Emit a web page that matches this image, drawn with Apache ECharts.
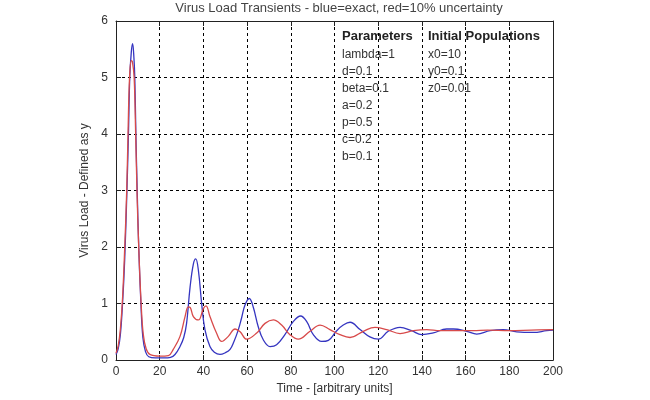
<!DOCTYPE html>
<html><head><meta charset="utf-8">
<script src="https://cdn.jsdelivr.net/npm/echarts@6/dist/echarts.min.js"></script>
<style>html,body{margin:0;padding:0;background:#fff}#c{width:650px;height:400px}</style>
</head><body><div id="c"></div>
<script>
var titleText = 'Virus Load Transients - blue=exact, red=10% uncertainty';
var xTicks = [0,20,40,60,80,100,120,140,160,180,200];
var yTicks = [0,1,2,3,4,5,6];
var blueExact = [[0,0.1],[1,0.2],[2,0.45],[3,1.0],[4,1.8],[5,3.0],[5.7,4.0],[6.3,5.0],[7,5.45],[7.6,5.6],[8.2,5.35],[8.6,5.0],[9.1,4.0],[9.7,3.0],[10.4,2.0],[11.4,1.0],[12.3,0.4],[13.5,0.15],[15,0.06],[18,0.04],[22,0.04],[25,0.05],[27,0.1],[29.3,0.24],[31,0.4],[32.3,0.65],[33.9,1.29],[35.4,1.7],[36.5,1.79],[37.7,1.59],[39.2,1.0],[40.7,0.54],[43,0.24],[45,0.14],[47.6,0.1],[50,0.13],[52.2,0.19],[54,0.33],[56,0.54],[57.5,0.75],[59,0.97],[61,1.09],[62.8,0.94],[65.1,0.59],[67.4,0.36],[70.5,0.24],[73.5,0.27],[77.3,0.45],[81.1,0.68],[84.5,0.78],[87.3,0.68],[90.3,0.45],[94.1,0.33],[97.2,0.35],[101,0.52],[104,0.62],[107.1,0.67],[111.7,0.54],[116.2,0.41],[120.1,0.37],[124.6,0.51],[130,0.58],[135.3,0.52],[139.9,0.45],[145.2,0.48],[151.3,0.55],[154.4,0.55],[160.5,0.51],[165.1,0.46],[171.2,0.52],[177.2,0.54],[183.4,0.5],[191,0.49],[197.1,0.52],[200,0.53]];
var redUncertain = [[0,0.12],[1,0.25],[2,0.55],[3,1.1],[4,2.0],[4.9,3.0],[5.5,4.0],[6.2,5.0],[7,5.3],[7.5,5.28],[8.3,5.0],[9.0,4.0],[9.6,3.0],[10.4,2.0],[11.5,1.0],[12.5,0.45],[13.8,0.2],[15.5,0.1],[20,0.07],[24,0.08],[26.2,0.19],[29.3,0.42],[31.6,0.77],[33.1,0.94],[34,0.93],[35.4,0.77],[37.7,0.71],[40,0.91],[41.2,0.96],[43,0.77],[46,0.48],[48.4,0.33],[51.4,0.42],[54.5,0.55],[56.8,0.5],[59.8,0.37],[64.4,0.48],[68.2,0.65],[72,0.71],[75.8,0.62],[79.6,0.45],[83.4,0.37],[88.8,0.51],[93.4,0.62],[97.9,0.54],[102.5,0.45],[107.1,0.40],[113.2,0.51],[118.5,0.58],[123.9,0.54],[130,0.47],[136.1,0.52],[142.2,0.54],[148.3,0.52],[156,0.52],[163.5,0.52],[170,0.53],[180,0.52],[190,0.53],[200,0.54]];
var paramLines = ['lambda=1','d=0.1','beta=0.1','a=0.2','p=0.5','c=0.2','b=0.1'];
var initLines = ['x0=10','y0=0.1','z0=0.01'];

var FONT = 'Liberation Sans, Arial, sans-serif';
var TXT = '#333';
var chart = echarts.init(document.getElementById('c'), null, {renderer:'canvas'});
var graphics = [];
graphics.push({type:'text', left:342, top:30, style:{text:'Parameters', font:'bold 13px '+FONT, fill:'#222'}});
graphics.push({type:'text', left:428, top:30, style:{text:'Initial Populations', font:'bold 13px '+FONT, fill:'#222'}});
paramLines.forEach(function(s,i){graphics.push({type:'text', left:342, top:48.5+i*17.1, style:{text:s, font:'12px '+FONT, fill:TXT}});});
initLines.forEach(function(s,i){graphics.push({type:'text', left:428, top:48.5+i*17.1, style:{text:s, font:'12px '+FONT, fill:TXT}});});

var splitStyle = {show:true, lineStyle:{color:'#000', type:[3,3], width:1}};
chart.setOption({
  animation:false,
  backgroundColor:'#fff',
  title:{text:titleText, left:334, textAlign:'center', top:-3, textStyle:{fontFamily:FONT, fontSize:13, fontWeight:'normal', color:'#444'}},
  grid:{left:116, right:97, top:21, bottom:36},
  xAxis:[
    {type:'value', min:0, max:200, interval:20, position:'bottom',
     name:'Time - [arbitrary units]', nameLocation:'middle', nameGap:21,
     nameTextStyle:{fontFamily:FONT, fontSize:12, color:TXT},
     axisLine:{show:true, onZero:false, lineStyle:{color:'#222', width:1}},
     axisTick:{show:true, inside:true, length:5, lineStyle:{color:'#222'}},
     axisLabel:{fontFamily:FONT, fontSize:12, color:TXT, margin:6},
     splitLine:splitStyle},
    {type:'value', min:0, max:200, interval:20, position:'top',
     axisLine:{show:true, onZero:false, lineStyle:{color:'#222', width:1}},
     axisTick:{show:true, inside:true, length:5, lineStyle:{color:'#222'}},
     axisLabel:{show:false}, splitLine:{show:false}}
  ],
  yAxis:[
    {type:'value', min:0, max:6, interval:1, position:'left',
     name:'Virus Load - Defined as y', nameLocation:'middle', nameGap:19,
     nameTextStyle:{fontFamily:FONT, fontSize:12, color:TXT},
     axisLine:{show:true, onZero:false, lineStyle:{color:'#222', width:1}},
     axisTick:{show:true, inside:true, length:5, lineStyle:{color:'#222'}},
     axisLabel:{fontFamily:FONT, fontSize:12, color:TXT, margin:8},
     splitLine:splitStyle},
    {type:'value', min:0, max:6, interval:1, position:'right',
     axisLine:{show:true, onZero:false, lineStyle:{color:'#222', width:1}},
     axisTick:{show:true, inside:true, length:5, lineStyle:{color:'#222'}},
     axisLabel:{show:false}, splitLine:{show:false}}
  ],
  graphic:graphics,
  series:[
    {type:'line', name:'exact', data:blueExact, xAxisIndex:0, yAxisIndex:0, showSymbol:false, smooth:0.4,
     lineStyle:{color:'#3535c0', width:1.3}, itemStyle:{color:'#3535c0'}, z:3},
    {type:'line', name:'uncertain', data:redUncertain, xAxisIndex:0, yAxisIndex:0, showSymbol:false, smooth:0.4,
     lineStyle:{color:'#d84a4a', width:1.3}, itemStyle:{color:'#d84a4a'}, z:4}
  ]
});
</script></body></html>
